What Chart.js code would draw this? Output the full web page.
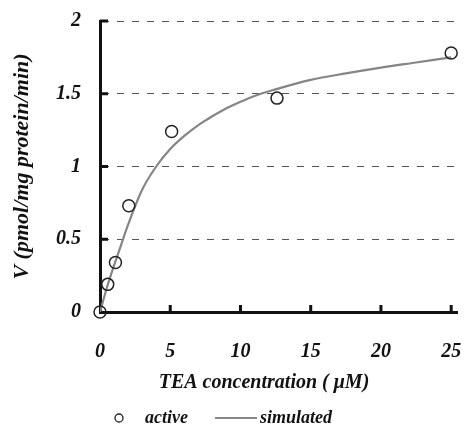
<!DOCTYPE html>
<html>
<head>
<meta charset="utf-8">
<script src="https://cdn.jsdelivr.net/npm/chart.js@4"></script>
<style>
  html, body { margin: 0; padding: 0; background: #fff; }
  #wrap { width: 465px; height: 428px; }
</style>
</head>
<body>
<div id="wrap"><canvas id="chart" width="465" height="428"></canvas></div>
<script>
// measured points (active)
const activeX = [0, 0.55, 1.1, 2.05, 5.1, 12.6, 25];
const activeY = [0, 0.19, 0.34, 0.73, 1.24, 1.47, 1.78];

// simulated curve
const simX = [0, 0.5, 1, 1.5, 2, 3, 4, 5, 6, 7, 8, 9, 10, 11, 12.5, 15, 17.5, 20, 22.5, 25];
const simY = [0, 0.17, 0.32, 0.46, 0.6, 0.84, 1.0, 1.12, 1.21, 1.285, 1.345, 1.4, 1.445, 1.485, 1.53, 1.595, 1.64, 1.68, 1.715, 1.75];

const yTicks = [0, 0.5, 1, 1.5, 2];
const xTicks = [0, 5, 10, 15, 20, 25];
const legendLabels = ['active', 'simulated'];
const xTitle = 'TEA concentration ( \u03bcM)';
const yTitle = 'V (pmol/mg protein/min)';

const serif = 'Liberation Serif, Times New Roman, serif';

const toPoints = (xs, ys) => xs.map((x, i) => ({ x: x, y: ys[i] }));

// inner tick marks, x title and legend
const extras = {
    id: 'extras',
    afterDatasetsDraw(chart) {
        const ctx = chart.ctx;
        const xs = chart.scales.x;
        const ys = chart.scales.y;
        const area = chart.chartArea;
        ctx.save();
        ctx.fillStyle = '#111';
        yTicks.forEach(v => {
            if (v === 0) return;
            const py = ys.getPixelForValue(v);
            ctx.fillRect(area.left, py - 1.5, 8, 3);
        });
        xTicks.forEach(v => {
            if (v === 0) return;
            const px = xs.getPixelForValue(v);
            ctx.fillRect(px - 1.5, area.bottom - 7, 3, 7);
        });

        ctx.textBaseline = 'middle';
        ctx.textAlign = 'center';
        ctx.font = 'italic bold 20px ' + serif;
        ctx.fillText(xTitle, 264, 383);

        // legend
        const ly = 418;
        ctx.textAlign = 'left';
        ctx.font = 'italic bold 18px ' + serif;
        ctx.strokeStyle = '#222';
        ctx.lineWidth = 1.3;
        ctx.beginPath();
        ctx.arc(119, ly, 4, 0, Math.PI * 2);
        ctx.stroke();
        ctx.fillText(legendLabels[0], 145, ly);
        ctx.strokeStyle = '#888';
        ctx.lineWidth = 2;
        ctx.beginPath();
        ctx.moveTo(215, ly);
        ctx.lineTo(257, ly);
        ctx.stroke();
        ctx.fillText(legendLabels[1], 260, ly);
        ctx.restore();
    }
};

new Chart(document.getElementById('chart'), {
    type: 'scatter',
    data: {
        datasets: [
            {
                label: legendLabels[0],
                data: toPoints(activeX, activeY),
                pointRadius: 6,
                pointBorderWidth: 1.5,
                borderColor: '#222',
                backgroundColor: 'rgba(255,255,255,0)',
                clip: false,
                order: 0
            },
            {
                label: legendLabels[1],
                type: 'line',
                data: toPoints(simX, simY),
                showLine: true,
                pointRadius: 0,
                borderColor: '#858585',
                borderWidth: 2.2,
                cubicInterpolationMode: 'monotone',
                fill: false,
                order: 1
            }
        ]
    },
    options: {
        responsive: false,
        animation: false,
        events: [],
        layout: { padding: { top: 21, right: 0, bottom: 0, left: 0 } },
        plugins: {
            legend: { display: false },
            tooltip: { enabled: false }
        },
        scales: {
            x: {
                type: 'linear',
                min: 0,
                max: 25.45,
                afterBuildTicks: s => { s.ticks = xTicks.map(v => ({ value: v })); },
                afterFit: s => { s.height = 116; s.paddingLeft = 0; s.paddingRight = 0; },
                grid: { display: false, drawTicks: false },
                border: { display: true, color: '#111', width: 3 },
                ticks: {
                    color: '#111',
                    padding: 28,
                    maxRotation: 0,
                    font: { family: serif, size: 20, style: 'italic', weight: 'bold' }
                }
            },
            y: {
                min: 0,
                max: 2,
                afterBuildTicks: s => { s.ticks = yTicks.map(v => ({ value: v })); },
                afterFit: s => { s.width = 100; s.paddingTop = 0; s.paddingBottom = 0; },
                grid: {
                    drawTicks: false,
                    color: c => (c.tick && c.tick.value === 0) ? 'rgba(0,0,0,0)' : '#555',
                    lineWidth: 1
                },
                border: { display: true, color: '#111', width: 3, dash: [7, 8] },
                ticks: {
                    color: '#111',
                    padding: 19,
                    callback: v => String(v),
                    font: { family: serif, size: 20, style: 'italic', weight: 'bold' }
                },
                title: {
                    display: true,
                    text: yTitle,
                    color: '#111',
                    padding: { top: 9, bottom: 0 },
                    font: { family: serif, size: 22, style: 'italic', weight: 'bold' }
                }
            }
        }
    },
    plugins: [extras]
});
</script>
</body>
</html>
